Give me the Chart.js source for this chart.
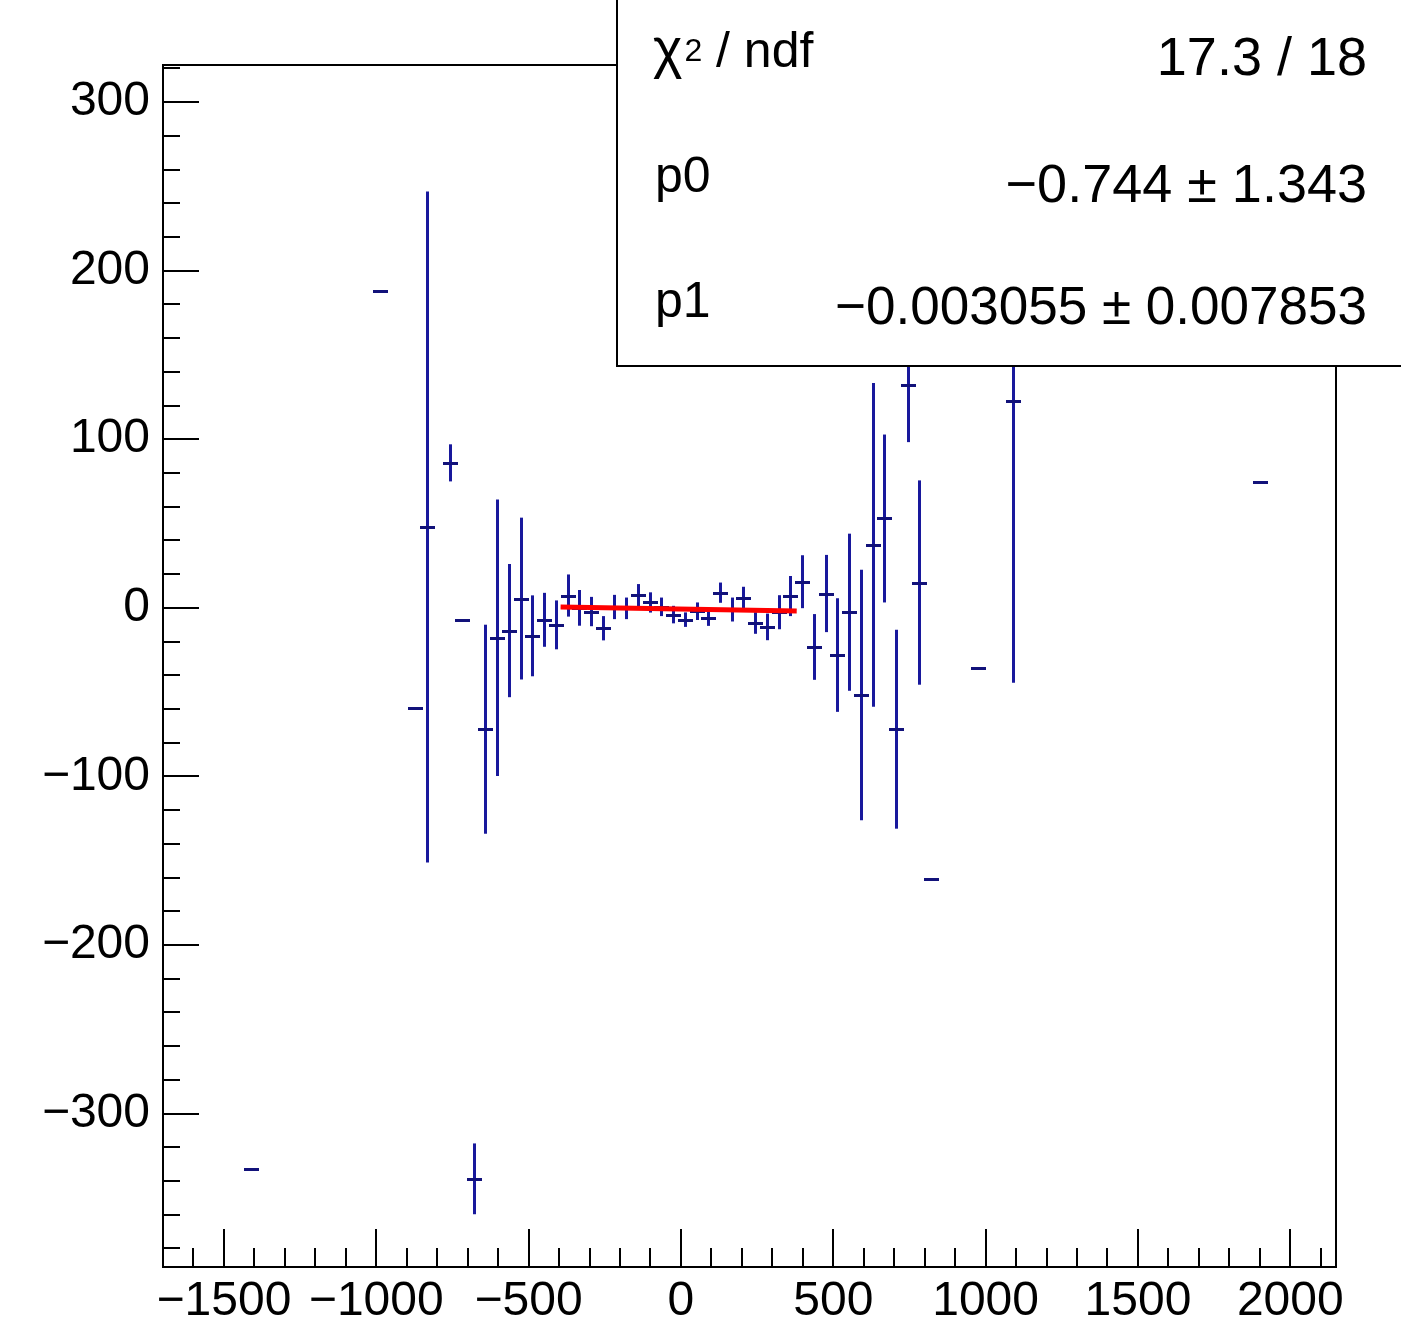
<!DOCTYPE html>
<html>
<head>
<meta charset="utf-8">
<script src="https://cdn.jsdelivr.net/npm/chart.js@4.4.1/dist/chart.umd.min.js"></script>
<style>
  html, body { margin: 0; padding: 0; background: #fff; }
  #wrap { width: 1401px; height: 1326px; }
</style>
</head>
<body>
<div id="wrap"><canvas id="myChart"></canvas></div>
<script>
// bin centres, contents and errors
var binX = [-1411.25, -988.25, -872.75, -834.25, -757.25, -718.75, -680.25, -641.75, -603.25, -564.75,
	-526.25, -487.75, -449.25, -410.75, -372.25, -333.75, -295.25, -256.75, -218.25, -179.75,
	-141.25, -102.75, -64.25, -25.75, 12.75, 51.25, 89.75, 128.25, 166.75, 205.25,
	243.75, 282.25, 320.75, 359.25, 397.75, 436.25, 474.75, 513.25, 551.75, 590.25,
	628.75, 667.25, 705.75, 744.25, 782.75, 821.25, 975.25, 1090.75, 1899.75];
var binY = [-333, 187.8, -59.6, 48, 86, -7.3, -338.7, -72, -17.7, -13.5,
	5.5, -16.6, -7.1, -10.1, 7.3, 0, -2.2, -12.1, 0.5, -0.3,
	7.6, 3.2, 0.6, -4, -7, -2, -6, 9, -1, 5.8,
	-9, -11.3, -2.6, 7, 15.5, -23.2, 8.5, -28, -2.6, -51.7,
	37.3, 53, -72, 132.3, 15, -161, -35.8, 122.6, 74.9];
var binErr = [0, 0, 0, 199, 11, 0, 21, 62, 82, 39.5,
	48, 24, 16, 14.5, 12.5, 10.6, 8.7, 7.2, 7.2, 6.4,
	6.5, 6, 5.5, 5.2, 4.3, 5.2, 4.7, 6, 7.1, 6.7,
	6.4, 7.9, 10.1, 11.9, 15.7, 19.5, 22.9, 33.7, 46.6, 74.3,
	96, 49.8, 59, 34, 60.6, 0, 0, 167, 0];

// fit: pol1 over the central range
var fitRange = [-395, 380];
var p0 = -0.744;
var p1 = -0.003055;

var xTicks = [-1500, -1000, -500, 0, 500, 1000, 1500, 2000];
var yTicks = [-300, -200, -100, 0, 100, 200, 300];

var statRows = [
	["\u03C7", "17.3 / 18"],
	["p0", "\u22120.744 \u00B1 1.343"],
	["p1", "\u22120.003055 \u00B1 0.007853"]
];

var FONT = "'Liberation Sans', Arial, sans-serif";
var BLUE = "#18189c";

function fmt(v) {
	return String(v).replace("-", "\u2212");
}

var points = [];
for (var i = 0; i < binX.length; i++) {
	points.push({ x: binX[i], y: binY[i], e: binErr[i] });
}
var fitPoints = fitRange.map(function(x) { return { x: x, y: p0 + p1 * x }; });

var errorBars = {
	id: "errorBars",
	afterDatasetDraw: function(chart, args) {
		if (args.index !== 0) return;
		var ctx = chart.ctx, xs = chart.scales.x, ys = chart.scales.y, a = chart.chartArea;
		ctx.save();
		ctx.beginPath();
		ctx.rect(a.left, a.top, a.right - a.left, a.bottom - a.top);
		ctx.clip();
		points.forEach(function(p) {
			var px = Math.round(xs.getPixelForValue(p.x)) + 0.5;
			var py = Math.round(ys.getPixelForValue(p.y)) + 0.5;
			if (p.e > 0) {
				ctx.strokeStyle = BLUE;
				ctx.lineWidth = 3;
				ctx.beginPath();
				ctx.moveTo(px, ys.getPixelForValue(p.y + p.e));
				ctx.lineTo(px, ys.getPixelForValue(p.y - p.e));
				ctx.stroke();
			}
			ctx.strokeStyle = "#12127a";
			ctx.lineWidth = 3;
			ctx.beginPath();
			ctx.moveTo(px - 7.5, py);
			ctx.lineTo(px + 7.5, py);
			ctx.stroke();
		});
		ctx.restore();
	}
};

var frame = {
	id: "frame",
	afterDatasetsDraw: function(chart) {
		var ctx = chart.ctx, xs = chart.scales.x, ys = chart.scales.y, a = chart.chartArea;
		ctx.save();
		ctx.strokeStyle = "#000";
		ctx.lineWidth = 2;
		ctx.strokeRect(a.left, a.top, a.right - a.left, a.bottom - a.top);
		ctx.beginPath();
		// y ticks, minor every 20
		for (var v = Math.ceil(ys.min / 20) * 20; v <= ys.max; v += 20) {
			var py = Math.round(ys.getPixelForValue(v));
			var len = (v % 100 === 0) ? 36 : 17;
			ctx.moveTo(a.left, py);
			ctx.lineTo(a.left + len, py);
		}
		// x ticks, minor every 100
		for (var u = Math.ceil(xs.min / 100) * 100; u <= xs.max; u += 100) {
			var px = Math.round(xs.getPixelForValue(u));
			var l2 = (u % 500 === 0) ? 38 : 19;
			ctx.moveTo(px, a.bottom);
			ctx.lineTo(px, a.bottom - l2);
		}
		ctx.stroke();
		ctx.restore();
	}
};

var statBox = {
	id: "statBox",
	afterDraw: function(chart) {
		var ctx = chart.ctx;
		ctx.save();
		ctx.fillStyle = "#fff";
		ctx.fillRect(617, -5, 800, 371);
		ctx.strokeStyle = "#000";
		ctx.lineWidth = 2;
		ctx.strokeRect(617, -5, 800, 371);
		ctx.fillStyle = "#000";
		var leftBase = [67, 192, 317];
		var rightBase = [75, 202, 324];
		for (var r = 0; r < statRows.length; r++) {
			ctx.textAlign = "left";
			ctx.textBaseline = "alphabetic";
			ctx.font = "50px " + FONT;
			if (r === 0) {
				ctx.font = "56px " + FONT;
				ctx.fillText("\u03C7", 653, leftBase[r]);
				var w = ctx.measureText("\u03C7").width;
				ctx.font = "32px " + FONT;
				ctx.fillText("2", 653 + w + 2, leftBase[r] - 6);
				var w2 = ctx.measureText("2").width;
				ctx.font = "50px " + FONT;
				ctx.fillText(" / ndf", 653 + w + w2 + 2, leftBase[r]);
			} else {
				ctx.fillText(statRows[r][0], 655, leftBase[r]);
			}
			ctx.textAlign = "right";
			ctx.font = "54px " + FONT;
			ctx.fillText(statRows[r][1], 1367, rightBase[r], 532);
		}
		ctx.restore();
	}
};

var ctx = document.getElementById("myChart").getContext("2d");
var myChart = new Chart(ctx, {
	type: "scatter",
	data: {
		datasets: [{
			label: "data",
			data: points,
			pointRadius: 0,
			showLine: false,
			order: 1
		}, {
			label: "fit",
			data: fitPoints,
			showLine: true,
			borderColor: "#ff0000",
			borderWidth: 5,
			pointRadius: 0,
			fill: false,
			order: 0
		}]
	},
	options: {
		responsive: true,
		maintainAspectRatio: false,
		animation: false,
		layout: { padding: { top: 65, right: 65, left: 0, bottom: 0 } },
		plugins: { legend: { display: false }, tooltip: { enabled: false } },
		scales: {
			x: {
				type: "linear",
				min: -1700,
				max: 2150,
				afterBuildTicks: function(scale) { scale.ticks = xTicks.map(function(v) { return { value: v }; }); },
				afterFit: function(scale) { scale.height = 59; },
				grid: { display: false, drawTicks: false },
				border: { display: false },
				ticks: {
					padding: 6,
					maxRotation: 0,
					autoSkip: false,
					color: "#000",
					font: { family: FONT, size: 48 },
					callback: function(v) { return fmt(v); }
				}
			},
			y: {
				type: "linear",
				min: -391,
				max: 322,
				afterBuildTicks: function(scale) { scale.ticks = yTicks.map(function(v) { return { value: v }; }); },
				afterFit: function(scale) { scale.width = 163; },
				grid: { display: false, drawTicks: false },
				border: { display: false },
				ticks: {
					padding: 13,
					autoSkip: false,
					color: "#000",
					font: { family: FONT, size: 48 },
					callback: function(v) { return fmt(v); }
				}
			}
		}
	},
	plugins: [errorBars, frame, statBox]
});
</script>
</body>
</html>
